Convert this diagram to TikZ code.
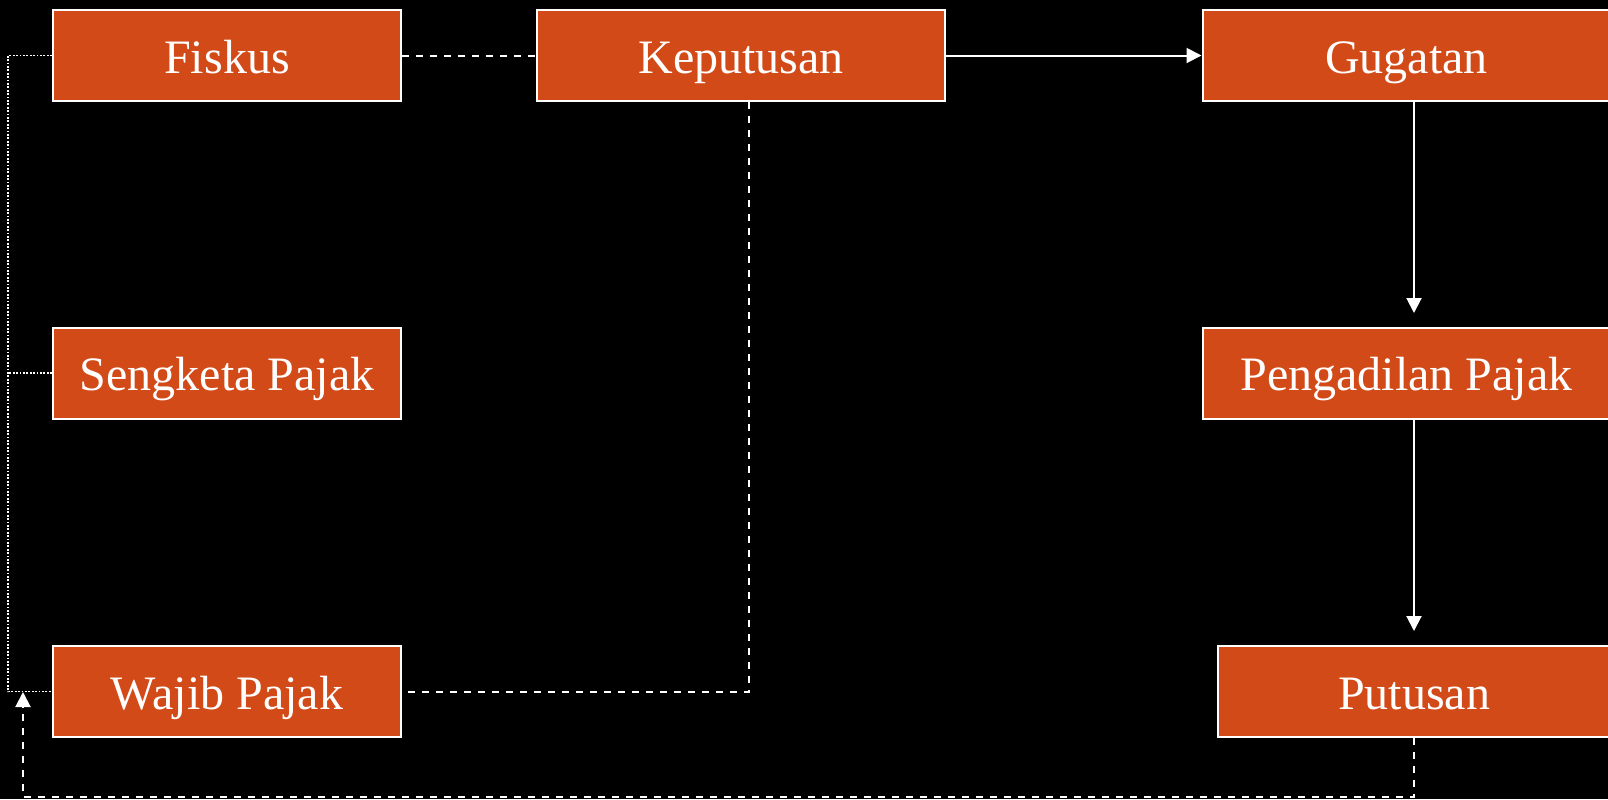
\documentclass[tikz,border=0pt]{standalone}
\usepackage{fontspec}
\setmainfont{Liberation Serif}
\usepackage{xcolor}
\usepackage{tikz}
\usetikzlibrary{arrows.meta}
\definecolor{boxorange}{RGB}{210,74,24}

\begin{document}
\begin{tikzpicture}[
		x=0.5pt, y=-0.5pt,
		block/.style={rectangle, draw=white, fill=boxorange, line width=1pt, inner sep=0pt, minimum height=45.5pt, text height=22pt, text depth=4.2pt, text=white, font=\fontsize{24}{28}\selectfont},
		leftblock/.style={block, minimum width=174pt},
		wideblock/.style={block, minimum width=204pt},
		arrowline/.style={draw=white, line width=1pt, -{Triangle[width=7.5pt, length=7.5pt]}},
		dashline/.style={draw=white, line width=1pt, dash pattern=on 3.5pt off 3.5pt},
		dotline/.style={draw=white, line width=0.9pt, dash pattern=on 0.9pt off 0.8pt},
		]
		\fill[black] (0,0) rectangle (1608,799);
		\useasboundingbox (0,0) rectangle (1608,799);

		%Main Nodes
		\node[leftblock]	(fiskus)		at (227,55.5)		{Fiskus};
		\node[leftblock]	(sengketa)		at (227,373)		{Sengketa Pajak};
		\node[leftblock]	(wajib)			at (227,691.5)		{Wajib Pajak};
		\node[wideblock]	(keputusan)		at (741,55.5)		{Keputusan};
		\node[wideblock]	(gugatan)		at (1406.5,55.5)	{Gugatan};
		\node[wideblock]	(pengadilan)	at (1406.5,373)		{Pengadilan Pajak};
		\node[block, minimum width=196pt]	(putusan)	at (1414,691.5)	{Putusan};

		%Free ends
		\coordinate	(lft)		at (8,691.5);
		\coordinate	(kdrop)		at (749,691.5);
		\coordinate	(pa_in)		at (1414,313);
		\coordinate	(pu_in)		at (1414,631);
		\coordinate	(bot)		at (23,797);
		\coordinate	(wp_in)		at (23,692);

		%Dotted bracket
		\draw[dotline]	(fiskus.west)	--	(fiskus.west -| lft)	--	(lft)	--	(wajib.west);
		\draw[dotline]	(sengketa.west)	--	(sengketa.west -| lft);

		%Dashed lines
		\draw[dashline]	(fiskus.east)	--	(keputusan.west);
		\draw[dashline]	(keputusan.south -| kdrop)	--	(kdrop)	--	(wajib.east);
		\draw[dashline, -{Triangle[width=7.5pt, length=7.5pt]}]	(putusan.south)	|-	(bot)	--	(wp_in);

		%Arrows
		\draw[arrowline]	(keputusan.east)	--	(gugatan.west);
		\draw[arrowline]	(gugatan.south -| pa_in)	--	(pa_in);
		\draw[arrowline]	(pengadilan.south -| pu_in)	--	(pu_in);

	\end{tikzpicture}
\end{document}
